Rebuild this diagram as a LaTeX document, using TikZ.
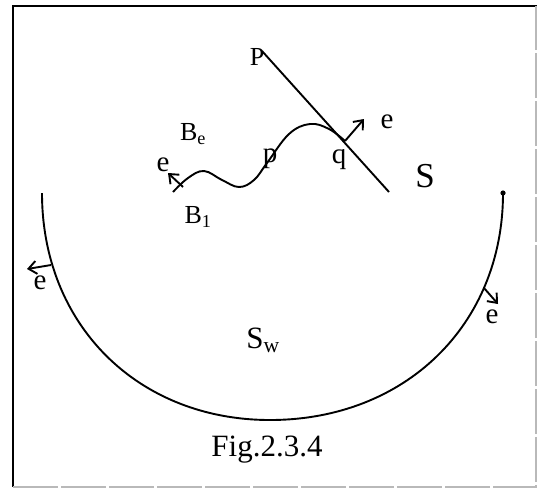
\documentclass[tikz,border=0pt]{standalone}
\usepackage{fontspec}
\setmainfont{Liberation Serif}
\usetikzlibrary{arrows.meta}
\begin{document}
\begin{tikzpicture}[x=1pt,y=-1pt,
  curve/.style={line width=1.9pt,line join=round},
  vec/.style={line width=1.9pt,-{Straight Barb[length=8pt,width=13pt,line width=1.9pt]}},
  lbl/.style={inner sep=0pt,font=\fontsize{29}{32}\selectfont},
  lblB/.style={inner sep=0pt,font=\fontsize{26}{30}\selectfont},
  lblS/.style={inner sep=0pt,font=\fontsize{35}{38}\selectfont},
  lblF/.style={inner sep=0pt,font=\fontsize{31}{34}\selectfont}]
\useasboundingbox (0,0) rectangle (537,488);
% frame
\draw[line width=2pt] (13,487) -- (13,6) -- (537,6);
\draw[gray!55,line width=1.2pt,dash pattern=on 45pt off 3pt] (13,487) -- (536,487) -- (536,6);
% line S
\coordinate (P0) at (262,51);
\coordinate (S1) at (389,192);
\draw[curve] (P0) -- (S1);
% wavy boundary
\coordinate (c0) at (173,192);
\coordinate (qpt) at (345,141);
\draw[curve] plot[smooth,tension=0.65] coordinates {(173,192) (188,178) (204,171) (222,180) (239,187) (254,180) (267,163) (289,134) (310,124) (329,129) (345,141)};
% arrows on wavy boundary
\coordinate (lft) at (183,187);
\coordinate (lfttip) at (168,173);
\draw[vec] (lft) -- (lfttip);
\coordinate (qtip) at (364,119);
\draw[vec] (qpt) -- (qtip);
% lower arc
\coordinate (aL) at (42,193);
\coordinate (aB) at (270,420);
\coordinate (aR) at (503,193);
\draw[curve] (aL) .. controls (42,325) and (138,420) .. (aB)
             .. controls (405,420) and (503,325) .. (aR);
\fill (aR) circle (2.6pt);
% arrows on arc
\coordinate (al) at (51,265);
\coordinate (altip) at (27,269);
\draw[vec] (al) -- (altip);
\coordinate (ar) at (484,288);
\coordinate (artip) at (498,304);
\draw[vec] (ar) -- (artip);
% labels
\node[lblB] (Plab) at (257,57) {P};
\node[lblB] (Be) at (193,134) {B\textsubscript{e}};
\node[lblB] (B1) at (198,217) {B\textsubscript{1}};
\node[lbl] (elft) at (163,165) {e};
\node[lbl] (pl) at (270,159) {p};
\node[lbl] (ql) at (339,160) {q};
\node[lbl] (eq) at (387,122) {e};
\node[lblS] (S) at (425,176) {S};
\node[lbl] (eal) at (40,283) {e};
\node[lbl] (ear) at (492,317) {e};
\node[lblF] (Sw) at (263,340) {S\textsubscript{w}};
\node[lblF,anchor=base] (fig) at (267,456) {Fig.2.3.4};
\end{tikzpicture}
\end{document}
